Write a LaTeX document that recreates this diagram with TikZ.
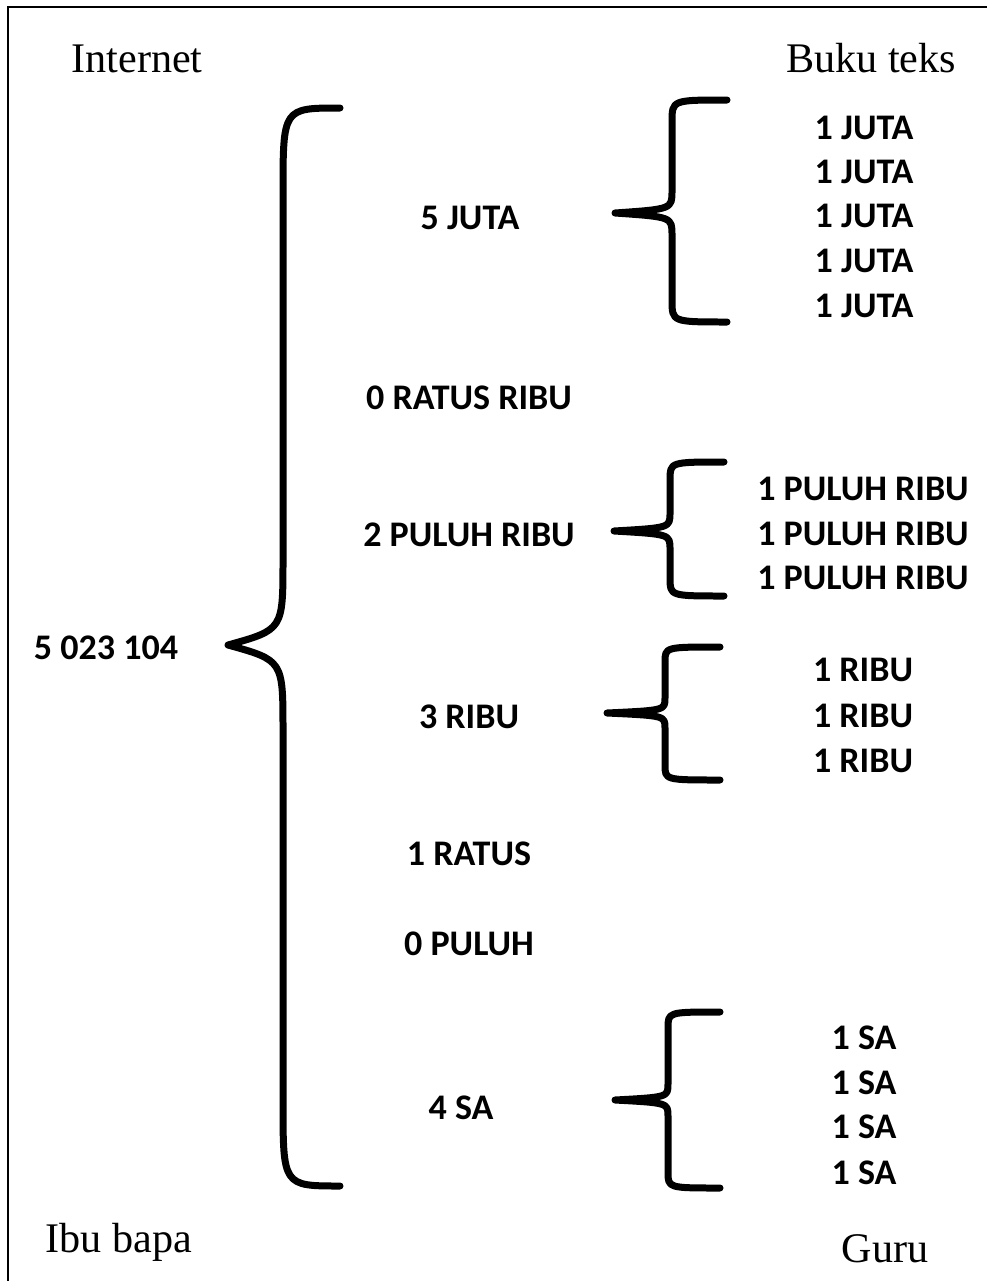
\documentclass[tikz,border=0pt]{standalone}
\usepackage{fontspec}
\usepackage{tikz}
\usetikzlibrary{positioning}
\setmainfont{Liberation Serif}
\newfontfamily\numfont{Carlito}
\tikzset{
  corner/.style={font=\fontsize{24}{28}\selectfont, inner sep=0pt, anchor=base},
  num/.style={font=\numfont\bfseries\fontsize{20.5}{24}\selectfont, inner sep=0pt},
  brace/.style={line width=0.14cm, line cap=round, line join=round, color=black},
  frame/.style={line width=0.06cm}
}
% curly brace: end x, stem x, tip x, top y, mid y, bottom y, radius
\newcommand{\curly}[7]{%
  \draw[brace] (#1,#4) .. controls (#2,#4) .. (#2,#4+#7) -- (#2,#5-#7)
    .. controls (#2,#5-0.18*#7) .. (#3,#5) .. controls (#2,#5+0.18*#7) .. (#2,#5+#7)
    -- (#2,#6-#7) .. controls (#2,#6) .. (#1,#6);}

\begin{document}
\begin{tikzpicture}[x=0.02cm, y=-0.02cm]
  \useasboundingbox (0,0) rectangle (987,1281);
  \draw[frame] (8,1281) -- (8,7) -- (987,7);

  % Corner labels
  \node[corner] (internet) at (137,72) {Internet};
  \node[corner] (buku) at (871,72) {Buku teks};
  \node[corner] (ibubapa) at (119,1252) {Ibu bapa};
  \node[corner] (guru) at (885,1262) {Guru};

  % Whole number
  \node[num] (total) at (106,648) {5 023 104};

  % Place values
  \node[num] (juta) at (470,218) {5 JUTA};
  \node[num] (ratusribu) at (469,398) {0 RATUS RIBU};
  \node[num] (puluhribu) at (469,535) {2 PULUH RIBU};
  \node[num] (ribu) at (469,717) {3 RIBU};
  \node[num] (ratus) at (469,854) {1 RATUS};
  \node[num] (puluh) at (469,944) {0 PULUH};
  \node[num] (sa) at (461,1108) {4 SA};

  % Split into ones
  \foreach \y [count=\i] in {128,172,216,261,306}
    \node[num] (juta\i) at (864,\y) {1 JUTA};
  \foreach \y [count=\i] in {489,534,578}
    \node[num] (puluhribu\i) at (863,\y) {1 PULUH RIBU};
  \foreach \y [count=\i] in {670,716,761}
    \node[num] (ribu\i) at (863,\y) {1 RIBU};
  \foreach \y [count=\i] in {1038,1083,1127,1173}
    \node[num] (sa\i) at (864,\y) {1 SA};

  % Braces
  \curly{340}{283}{228}{108}{645}{1186}{85}
  \curly{727}{672}{615}{100}{213}{322}{22}
  \curly{724}{670}{614}{462}{531}{596}{18}
  \curly{720}{665}{607}{647}{713}{780}{15}
  \curly{720}{668}{615}{1012}{1100}{1188}{16}
\end{tikzpicture}
\end{document}
